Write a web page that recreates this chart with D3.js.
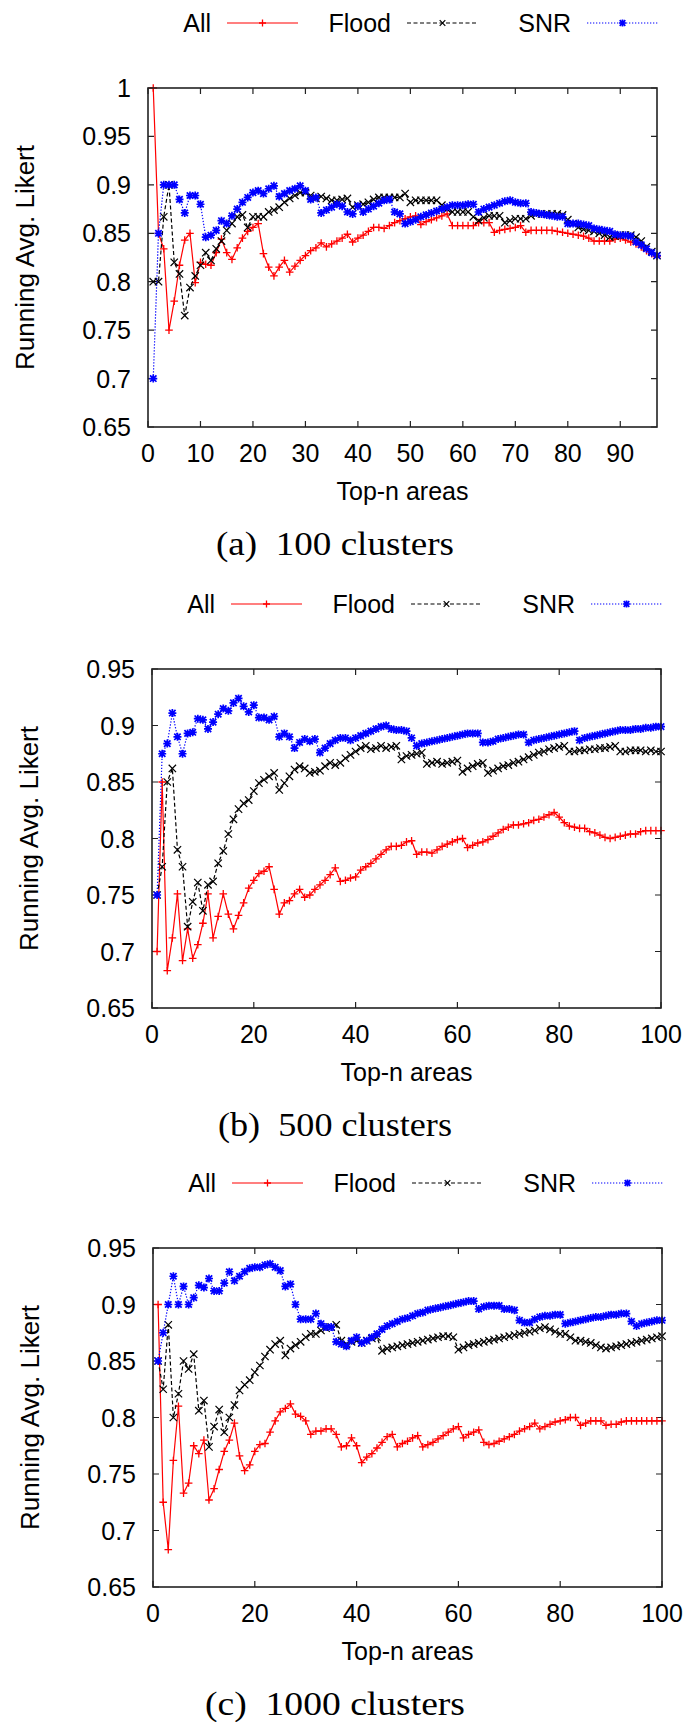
<!DOCTYPE html>
<html>
<head>
<meta charset="utf-8">
<title>Running Avg. Likert</title>
<script src="https://cdn.jsdelivr.net/npm/d3@7"></script>
<style>
  body { margin: 0; background: #fff; }
  svg { display: block; }
</style>
</head>
<body>
<script>
// Valeurs (rang 1..n)
var seriesNames = ["All", "Flood", "SNR"];
var captions = ["(a)\u00a0 100 clusters", "(b)\u00a0 500 clusters", "(c)\u00a0 1000 clusters"];

var xTicksA = [0, 10, 20, 30, 40, 50, 60, 70, 80, 90];
var xTicksBC = [0, 20, 40, 60, 80, 100];
var yTicksA = [0.65, 0.7, 0.75, 0.8, 0.85, 0.9, 0.95, 1];
var yTicksBC = [0.65, 0.7, 0.75, 0.8, 0.85, 0.9, 0.95];

// (a) 100 clusters
var allA = [1.000,0.850,0.834,0.750,0.780,0.817,0.843,0.850,0.799,0.820,
  0.818,0.817,0.830,0.844,0.830,0.823,0.835,0.845,0.852,0.856,
  0.860,0.829,0.815,0.806,0.815,0.822,0.810,0.816,0.822,0.827,
  0.832,0.835,0.840,0.836,0.839,0.842,0.845,0.849,0.841,0.845,
  0.848,0.852,0.856,0.856,0.855,0.858,0.861,0.863,0.865,0.867,
  0.868,0.859,0.862,0.864,0.866,0.868,0.870,0.858,0.858,0.858,
  0.858,0.858,0.861,0.861,0.861,0.851,0.853,0.854,0.855,0.856,
  0.858,0.851,0.853,0.853,0.853,0.853,0.853,0.852,0.851,0.850,
  0.849,0.848,0.847,0.845,0.842,0.842,0.842,0.842,0.844,0.845,
  0.843,0.841,0.839,0.836,0.832,0.829,0.826];
var floodA = [0.800,0.800,0.867,0.900,0.820,0.808,0.765,0.794,0.806,0.817,
  0.830,0.822,0.834,0.842,0.853,0.860,0.867,0.869,0.856,0.867,
  0.867,0.867,0.872,0.874,0.877,0.882,0.886,0.889,0.892,0.892,
  0.889,0.886,0.888,0.886,0.884,0.884,0.885,0.886,0.877,0.879,
  0.880,0.882,0.885,0.887,0.887,0.887,0.887,0.887,0.891,0.882,
  0.884,0.884,0.884,0.884,0.884,0.879,0.875,0.872,0.872,0.872,
  0.872,0.867,0.863,0.866,0.868,0.868,0.868,0.861,0.863,0.865,
  0.865,0.865,0.868,0.870,0.870,0.870,0.870,0.870,0.869,0.864,
  0.860,0.856,0.854,0.853,0.852,0.850,0.848,0.846,0.847,0.848,
  0.848,0.848,0.846,0.842,0.836,0.831,0.827];
var snrA = [0.700,0.850,0.900,0.900,0.900,0.885,0.871,0.889,0.889,0.880,
  0.846,0.848,0.853,0.863,0.860,0.868,0.875,0.882,0.887,0.892,
  0.894,0.891,0.896,0.899,0.888,0.891,0.894,0.896,0.899,0.894,
  0.885,0.887,0.871,0.874,0.877,0.880,0.878,0.872,0.870,0.878,
  0.872,0.875,0.878,0.881,0.884,0.885,0.872,0.870,0.860,0.862,
  0.864,0.867,0.869,0.871,0.873,0.875,0.877,0.879,0.879,0.879,
  0.880,0.880,0.872,0.875,0.877,0.879,0.881,0.883,0.884,0.882,
  0.881,0.881,0.872,0.871,0.870,0.869,0.868,0.867,0.867,0.860,
  0.860,0.860,0.859,0.858,0.855,0.854,0.853,0.852,0.849,0.848,
  0.848,0.847,0.841,0.838,0.834,0.830,0.827];

// (b) 500 clusters
var allB = [0.700,0.850,0.683,0.712,0.751,0.692,0.720,0.694,0.706,0.725,
  0.751,0.712,0.731,0.751,0.733,0.720,0.732,0.743,0.756,0.763,
  0.769,0.771,0.775,0.755,0.733,0.743,0.745,0.751,0.755,0.748,
  0.750,0.755,0.759,0.763,0.768,0.774,0.762,0.763,0.765,0.766,
  0.772,0.775,0.778,0.782,0.786,0.790,0.793,0.793,0.794,0.797,
  0.798,0.786,0.788,0.788,0.787,0.790,0.793,0.795,0.797,0.799,
  0.800,0.792,0.794,0.796,0.797,0.799,0.802,0.805,0.808,0.810,
  0.812,0.812,0.813,0.814,0.816,0.817,0.819,0.821,0.823,0.819,
  0.814,0.811,0.810,0.809,0.809,0.806,0.805,0.803,0.801,0.800,
  0.801,0.802,0.803,0.804,0.804,0.806,0.807,0.807,0.807,0.807];
var floodB = [0.750,0.775,0.850,0.862,0.790,0.775,0.722,0.744,0.761,0.736,
  0.759,0.762,0.778,0.789,0.804,0.817,0.826,0.831,0.834,0.842,
  0.849,0.852,0.855,0.858,0.843,0.849,0.855,0.861,0.864,0.862,
  0.858,0.859,0.860,0.864,0.867,0.865,0.867,0.871,0.874,0.877,
  0.880,0.882,0.879,0.880,0.882,0.880,0.881,0.882,0.870,0.873,
  0.874,0.875,0.876,0.866,0.867,0.868,0.866,0.867,0.868,0.869,
  0.859,0.862,0.864,0.866,0.867,0.858,0.860,0.862,0.864,0.865,
  0.867,0.868,0.870,0.872,0.874,0.876,0.877,0.879,0.880,0.881,
  0.882,0.877,0.877,0.878,0.878,0.879,0.879,0.880,0.880,0.881,
  0.882,0.877,0.877,0.878,0.878,0.878,0.877,0.878,0.877,0.877];
var snrB = [0.750,0.875,0.884,0.911,0.890,0.875,0.893,0.894,0.906,0.905,
  0.897,0.903,0.910,0.915,0.913,0.920,0.924,0.917,0.912,0.918,
  0.907,0.907,0.905,0.908,0.890,0.893,0.890,0.880,0.885,0.888,
  0.886,0.888,0.876,0.880,0.884,0.887,0.889,0.889,0.887,0.889,
  0.891,0.893,0.895,0.897,0.899,0.900,0.897,0.896,0.896,0.895,
  0.889,0.882,0.884,0.885,0.886,0.887,0.888,0.889,0.890,0.891,
  0.892,0.893,0.893,0.893,0.885,0.885,0.886,0.888,0.889,0.890,
  0.891,0.892,0.892,0.885,0.887,0.888,0.889,0.890,0.891,0.892,
  0.893,0.894,0.895,0.887,0.889,0.890,0.891,0.892,0.893,0.894,
  0.895,0.896,0.896,0.896,0.897,0.897,0.898,0.898,0.899,0.899];

// (c) 1000 clusters
var allC = [0.900,0.725,0.683,0.762,0.810,0.733,0.742,0.775,0.768,0.780,
  0.727,0.737,0.754,0.770,0.780,0.795,0.766,0.753,0.758,0.770,
  0.776,0.777,0.787,0.797,0.805,0.808,0.812,0.803,0.801,0.797,
  0.785,0.788,0.788,0.790,0.790,0.785,0.774,0.775,0.782,0.775,
  0.760,0.765,0.768,0.773,0.778,0.783,0.785,0.774,0.777,0.779,
  0.782,0.784,0.774,0.776,0.778,0.781,0.784,0.787,0.790,0.792,
  0.782,0.785,0.787,0.789,0.778,0.776,0.777,0.779,0.781,0.783,
  0.785,0.788,0.790,0.792,0.795,0.790,0.792,0.794,0.796,0.797,
  0.798,0.800,0.800,0.793,0.795,0.797,0.797,0.797,0.793,0.794,
  0.794,0.796,0.797,0.797,0.797,0.797,0.797,0.797,0.797,0.797];
var floodC = [0.850,0.825,0.882,0.800,0.821,0.850,0.843,0.856,0.806,0.815,
  0.774,0.792,0.807,0.787,0.800,0.811,0.824,0.829,0.833,0.840,
  0.846,0.854,0.860,0.865,0.868,0.855,0.861,0.864,0.867,0.871,
  0.874,0.874,0.877,0.879,0.880,0.882,0.868,0.865,0.867,0.868,
  0.866,0.868,0.870,0.871,0.859,0.861,0.862,0.863,0.864,0.865,
  0.866,0.867,0.868,0.869,0.870,0.871,0.872,0.872,0.871,0.860,
  0.862,0.864,0.865,0.866,0.867,0.868,0.869,0.870,0.871,0.872,
  0.873,0.874,0.875,0.876,0.877,0.879,0.880,0.878,0.876,0.874,
  0.874,0.871,0.868,0.868,0.867,0.866,0.864,0.862,0.861,0.862,
  0.863,0.864,0.865,0.866,0.867,0.868,0.869,0.870,0.871,0.872];
var snrC = [0.850,0.875,0.900,0.925,0.900,0.916,0.900,0.906,0.917,0.915,
  0.923,0.912,0.912,0.919,0.929,0.921,0.925,0.929,0.932,0.933,
  0.933,0.935,0.936,0.933,0.930,0.916,0.918,0.900,0.887,0.887,
  0.887,0.892,0.883,0.880,0.880,0.867,0.865,0.863,0.868,0.871,
  0.866,0.868,0.871,0.874,0.878,0.881,0.883,0.885,0.887,0.888,
  0.890,0.892,0.893,0.895,0.896,0.897,0.898,0.899,0.900,0.901,
  0.902,0.903,0.903,0.896,0.898,0.899,0.899,0.899,0.896,0.896,
  0.895,0.886,0.884,0.884,0.887,0.889,0.890,0.890,0.891,0.891,
  0.883,0.884,0.885,0.886,0.887,0.888,0.889,0.889,0.890,0.891,
  0.891,0.892,0.892,0.885,0.881,0.883,0.884,0.885,0.886,0.886];

// Mise en page des trois graphiques
var panels = [
  { left: 148, right: 657, top: 88, bottom: 427, xMax: 97, yMin: 0.65, yMax: 1,
    xTicks: xTicksA, yTicks: yTicksA, series: [allA, floodA, snrA], caption: captions[0], capWidth: 238 },
  { left: 152, right: 661, top: 669, bottom: 1008, xMax: 100, yMin: 0.65, yMax: 0.95,
    xTicks: xTicksBC, yTicks: yTicksBC, series: [allB, floodB, snrB], caption: captions[1], capWidth: 234 },
  { left: 153, right: 662, top: 1248, bottom: 1587, xMax: 100, yMin: 0.65, yMax: 0.95,
    xTicks: xTicksBC, yTicks: yTicksBC, series: [allC, floodC, snrC], caption: captions[2], capWidth: 260 }
];

var styles = [
  { color: "#ff0000", dash: null, marker: "plus", size: 3.8, width: 1.3 },
  { color: "#000000", dash: "4,2.5", marker: "times", size: 4.6, width: 1.2 },
  { color: "#0000ff", dash: "1.3,1.7", marker: "star", size: 4, width: 1.7 }
];

var sans = "'Liberation Sans', Arial, Helvetica, sans-serif";
var serif = "'Liberation Serif', 'Times New Roman', serif";
var fontSize = 25;

function markerPath(type, r) {
  var plus = "M" + (-r) + ",0H" + r + "M0," + (-r) + "V" + r;
  var k = r * 0.8;
  var times = "M" + (-k) + "," + (-k) + "L" + k + "," + k + "M" + (-k) + "," + k + "L" + k + "," + (-k);
  if (type == "plus") return plus;
  if (type == "times") return times;
  return plus + times;
}

var svg = d3.select("body").append("svg")
  .attr("width", 691)
  .attr("height", 1722);

panels.forEach(function(p) {
  var x = d3.scaleLinear().domain([0, p.xMax]).range([p.left, p.right]);
  var y = d3.scaleLinear().domain([p.yMin, p.yMax]).range([p.bottom, p.top]);
  var g = svg.append("g");

  // legende
  var ly = p.top - 65;
  var offsets = [430, 250, 70];
  styles.forEach(function(s, i) {
    var x0 = p.right - offsets[i], x1 = x0 + 71;
    g.append("text")
      .attr("x", x0 - 16).attr("y", ly + 9)
      .attr("text-anchor", "end")
      .style("font-family", sans).style("font-size", fontSize + "px")
      .text(seriesNames[i]);
    g.append("line")
      .attr("x1", x0).attr("x2", x1).attr("y1", ly).attr("y2", ly)
      .attr("stroke", s.color).attr("stroke-width", 1.2)
      .attr("stroke-dasharray", s.dash);
    g.append("path")
      .attr("transform", "translate(" + ((x0 + x1) / 2) + "," + ly + ")")
      .attr("d", markerPath(s.marker, 3.5))
      .attr("stroke", s.color).attr("stroke-width", s.width).attr("fill", "none");
  });

  // graduations (vers l'interieur, sur les quatre cotes)
  var tick = 6;
  p.xTicks.forEach(function(t) {
    g.append("path")
      .attr("d", "M" + x(t) + "," + p.bottom + "v" + (-tick) + "M" + x(t) + "," + p.top + "v" + tick)
      .attr("stroke", "#222").attr("stroke-width", 1.2);
    g.append("text")
      .attr("x", x(t)).attr("y", p.bottom + 35)
      .attr("text-anchor", "middle")
      .style("font-family", sans).style("font-size", fontSize + "px")
      .text(String(t));
  });
  p.yTicks.forEach(function(t) {
    g.append("path")
      .attr("d", "M" + p.left + "," + y(t) + "h" + tick + "M" + p.right + "," + y(t) + "h" + (-tick))
      .attr("stroke", "#222").attr("stroke-width", 1.2);
    g.append("text")
      .attr("x", p.left - 17).attr("y", y(t) + 9)
      .attr("text-anchor", "end")
      .style("font-family", sans).style("font-size", fontSize + "px")
      .text(String(t));
  });

  // courbes : All, puis Flood, puis SNR par-dessus
  p.series.forEach(function(values, i) {
    var s = styles[i];
    var line = d3.line()
      .x(function(d, j) { return x(j + 1); })
      .y(function(d) { return y(d); });
    g.append("path")
      .datum(values)
      .attr("d", line)
      .attr("fill", "none")
      .attr("stroke", s.color)
      .attr("stroke-width", 1.2)
      .attr("stroke-dasharray", s.dash);
    g.selectAll(null)
      .data(values)
      .enter()
      .append("path")
      .attr("transform", function(d, j) { return "translate(" + x(j + 1) + "," + y(d) + ")"; })
      .attr("d", markerPath(s.marker, s.size))
      .attr("fill", "none")
      .attr("stroke", s.color)
      .attr("stroke-width", s.width);
  });

  // cadre
  g.append("rect")
    .attr("x", p.left).attr("y", p.top)
    .attr("width", p.right - p.left).attr("height", p.bottom - p.top)
    .attr("fill", "none").attr("stroke", "#222").attr("stroke-width", 1.6);

  // titres des axes
  g.append("text")
    .attr("transform", "translate(" + (p.left - 114) + "," + ((p.top + p.bottom) / 2) + ") rotate(-90)")
    .attr("text-anchor", "middle")
    .style("font-family", sans).style("font-size", "26px")
    .text("Running Avg. Likert");
  g.append("text")
    .attr("x", (p.left + p.right) / 2).attr("y", p.bottom + 73)
    .attr("text-anchor", "middle")
    .style("font-family", sans).style("font-size", fontSize + "px")
    .text("Top-n areas");

  // legende de la sous-figure
  g.append("text")
    .attr("x", 335 - p.capWidth / 2).attr("y", p.bottom + 128)
    .attr("textLength", p.capWidth)
    .attr("lengthAdjust", "spacingAndGlyphs")
    .style("font-family", serif).style("font-size", "34px")
    .text(p.caption);
});
</script>
</body>
</html>
